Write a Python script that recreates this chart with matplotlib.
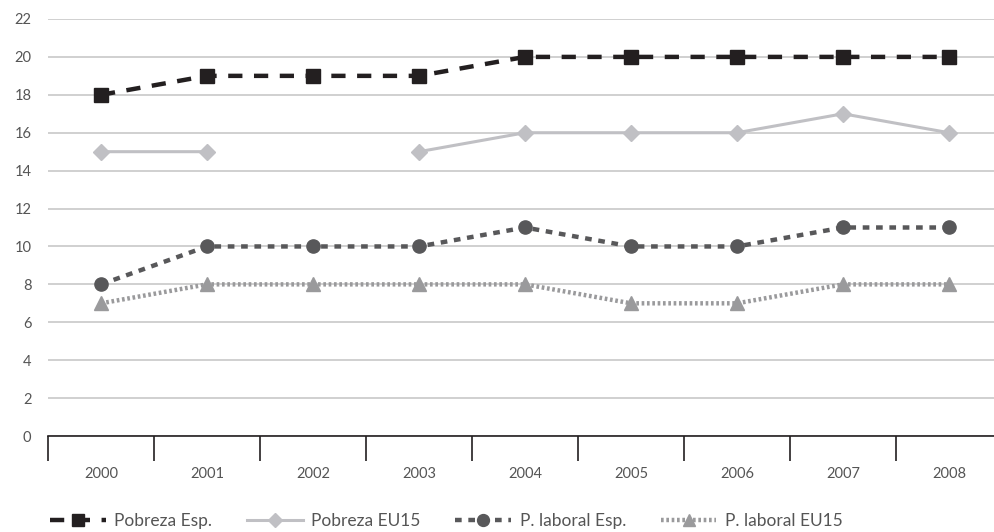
import numpy as np
import matplotlib.pyplot as plt

years = ["2000", "2001", "2002", "2003", "2004", "2005", "2006", "2007", "2008"]
pobreza_esp = [18, 19, 19, 19, 20, 20, 20, 20, 20]
pobreza_eu15 = [15, 15, np.nan, 15, 16, 16, 16, 17, 16]
laboral_esp = [8, 10, 10, 10, 11, 10, 10, 11, 11]
laboral_eu15 = [7, 8, 8, 8, 8, 7, 7, 8, 8]
y_ticks = list(range(0, 23, 2))

plt.rcParams["font.family"] = ["Lato", "DejaVu Sans"]

fig = plt.figure(figsize=(9.94, 5.32), dpi=100)
ax = fig.add_axes([48 / 994, (532 - 436) / 532, 954 / 994, (436 - 19) / 532])

x = np.arange(len(years))
txt = "#555555"

ax.plot(x, pobreza_esp, color="#231f20", lw=3.2, ls=(0, (3.2, 2.6)),
        marker="s", ms=9.5, zorder=5, label="Pobreza Esp.")
ax.plot(x, pobreza_eu15, color="#c0c0c4", lw=2.2, ls="-",
        marker="D", ms=8, zorder=4, label="Pobreza EU15")
ax.plot(x, laboral_esp, color="#58585a", lw=3.2, ls=(0, (1.5, 1.5)),
        marker="o", ms=9.5, zorder=4, label="P. laboral Esp.")
ax.plot(x, laboral_eu15, color="#9a9a9c", lw=3.2, ls=(0, (0.6, 0.6)),
        marker="^", ms=9.5, zorder=3, label="P. laboral EU15")

ax.set_xlim(-0.5, len(years) - 0.5)
ax.set_ylim(0, 22)
ax.set_yticks(y_ticks)
ax.set_yticklabels([str(v) for v in y_ticks], color=txt, fontsize=10.5)
ax.yaxis.grid(True, color="#c8c8c8", lw=1.2)
ax.set_axisbelow(True)
ax.tick_params(axis="y", length=0, pad=12)

# category boundaries as ticks, labels at the centres
ax.set_xticks(np.arange(len(years) + 1) - 0.5)
ax.set_xticklabels([])
ax.set_xticks(x, minor=True)
ax.set_xticklabels(years, minor=True, color=txt, fontsize=10.5)
ax.tick_params(axis="x", which="major", direction="out", length=18, width=1.2, color="#231f20")
ax.tick_params(axis="x", which="minor", length=0, pad=22)

for s in ["top", "right", "left"]:
    ax.spines[s].set_visible(False)
ax.spines["bottom"].set_color("#231f20")
ax.spines["bottom"].set_linewidth(1.2)

ax.legend(loc="center left", bbox_to_anchor=(-0.005, -0.203), ncol=4, frameon=False,
          fontsize=12.5, labelcolor=txt, handlelength=3.2, handletextpad=0.5,
          columnspacing=2.0, markerscale=0.9, borderaxespad=0)

fig.savefig("out.png", dpi=100)
